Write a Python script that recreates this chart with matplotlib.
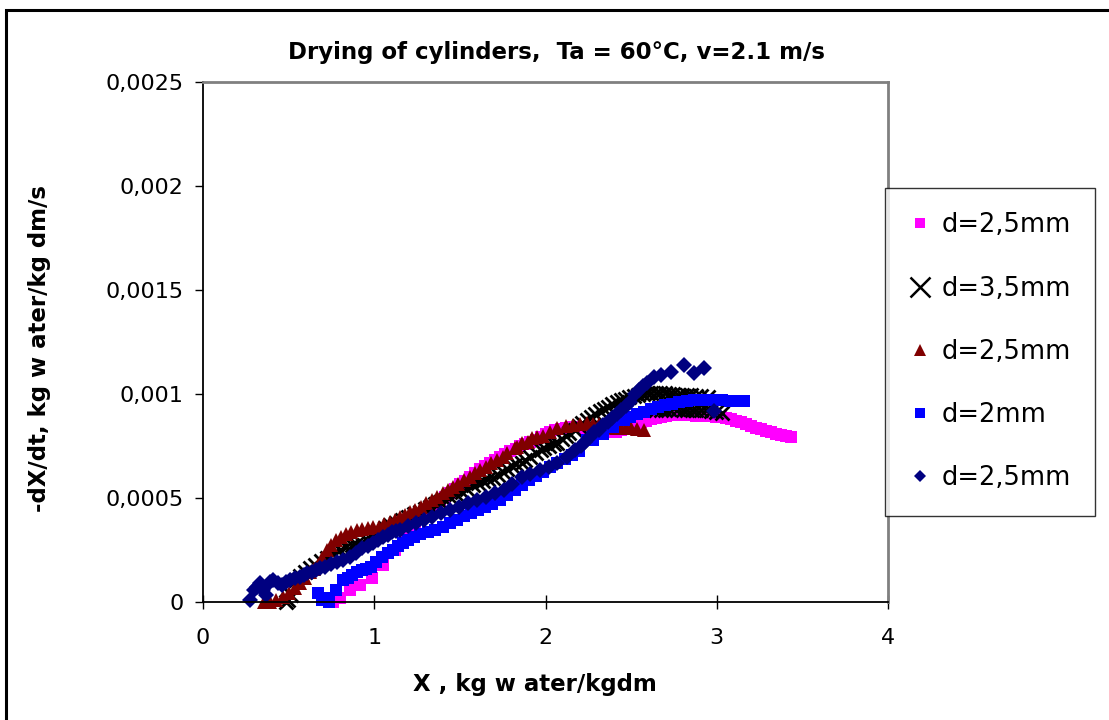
import matplotlib
matplotlib.use("Agg")
import matplotlib.pyplot as plt
from matplotlib.lines import Line2D
from matplotlib.patches import Rectangle

# ---------------------------------------------------------------------------
# Data (markers are dense so read in two passes)
# ---------------------------------------------------------------------------

# d=2,5mm (magenta squares)
x_mag = [0.760, 0.801, 0.860, 0.918, 0.988, 1.053, 1.123, 1.181, 1.240, 1.298,
         1.357, 1.415, 1.474, 1.532, 1.591, 1.649, 1.708, 1.766, 1.825, 1.883,
         1.942, 2.000, 2.058, 2.117, 2.175, 2.234, 2.292, 2.351, 2.409, 2.468,
         2.526, 2.585, 2.643, 2.702, 2.760, 2.819, 2.877, 2.936, 2.994, 3.053,
         3.111, 3.170, 3.228, 3.287, 3.345, 3.404, 3.433,
         1.327, 1.386, 1.444, 1.503, 1.561, 1.620, 1.678, 1.737, 1.795, 1.854,
         1.912, 1.971, 2.029, 2.088, 2.146, 2.205, 2.263, 2.322, 2.380, 2.439,
         2.497, 2.556, 2.614, 2.673, 2.731, 2.789, 2.848, 2.906, 2.965, 3.023,
         3.082, 3.140, 3.199, 3.257, 3.316, 3.374]
y_mag = [0.0, 0.0000192, 0.0000577, 0.0000817, 0.000115, 0.000178, 0.000250,
         0.000313, 0.000370, 0.000425, 0.000466, 0.000504, 0.000541, 0.000584,
         0.000620, 0.000654, 0.000681, 0.000710, 0.000736, 0.000760, 0.000781,
         0.000808, 0.000827, 0.000837, 0.000841, 0.000837, 0.000827, 0.000817,
         0.000817, 0.000837, 0.000856, 0.000870, 0.000885, 0.000894, 0.000899,
         0.000899, 0.000894, 0.000894, 0.000889, 0.000885, 0.000870, 0.000856,
         0.000837, 0.000822, 0.000808, 0.000798, 0.000793,
         0.000443, 0.000485, 0.000523, 0.000565, 0.000602, 0.000640, 0.000669,
         0.000696, 0.000725, 0.000750, 0.000771, 0.000792, 0.000817, 0.000832,
         0.000841, 0.000841, 0.000832, 0.000822, 0.000817, 0.000827, 0.000846,
         0.000865, 0.000880, 0.000889, 0.000899, 0.000899, 0.000899, 0.000894,
         0.000894, 0.000889, 0.000880, 0.000865, 0.000846, 0.000832, 0.000817,
         0.000803]

# d=3,5mm (black crosses)
x_blk = [0.485, 0.515, 0.544, 0.596, 0.655, 0.725, 0.801, 0.871, 0.924, 0.988,
         1.064, 1.129, 1.199, 1.269, 1.327, 1.386, 1.444, 1.515, 1.579, 1.637,
         1.696, 1.754, 1.807, 1.860, 1.912, 1.971, 2.023, 2.070, 2.117, 2.170,
         2.216, 2.263, 2.316, 2.363, 2.415, 2.462, 2.515, 2.567, 2.614, 2.667,
         2.719, 2.772, 2.825, 2.877, 2.947,
         2.643, 2.696, 2.749, 2.801, 2.854, 2.906, 2.965, 3.029,
         0.497, 0.567, 0.626, 0.690, 0.760, 0.836, 0.895, 0.953, 1.023, 1.094,
         1.164, 1.234, 1.298, 1.357, 1.415, 1.480, 1.544, 1.608, 1.667, 1.725,
         1.778, 1.830, 1.883, 1.942, 1.994, 2.047, 2.094, 2.140, 2.193, 2.240,
         2.287, 2.339, 2.386, 2.439, 2.485, 2.538, 2.591, 2.643, 2.696, 2.743,
         2.795, 2.848, 2.906,
         2.673, 2.719, 2.772, 2.825, 2.877, 2.936, 2.994]
y_blk = [0.0, 0.0000337, 0.000106, 0.000144, 0.000178, 0.000212, 0.000250,
         0.000274, 0.000284, 0.000322, 0.000356, 0.000380, 0.000409, 0.000433,
         0.000457, 0.000481, 0.000505, 0.000529, 0.000563, 0.000582, 0.000596,
         0.000625, 0.000654, 0.000668, 0.000697, 0.000731, 0.000750, 0.000764,
         0.000798, 0.000827, 0.000861, 0.000889, 0.000918, 0.000938, 0.000962,
         0.000976, 0.000990, 0.001000, 0.001005, 0.001005, 0.001000, 0.000995,
         0.000995, 0.000990, 0.000986,
         0.000923, 0.000923, 0.000933, 0.000923, 0.000923, 0.000923, 0.000918,
         0.000909,
         0.0000096, 0.000125, 0.000163, 0.000197, 0.000231, 0.000264, 0.000279,
         0.000303, 0.000341, 0.000370, 0.000394, 0.000423, 0.000447, 0.000471,
         0.000490, 0.000519, 0.000543, 0.000572, 0.000591, 0.000611, 0.000639,
         0.000663, 0.000683, 0.000716, 0.000740, 0.000760, 0.000784, 0.000813,
         0.000846, 0.000875, 0.000904, 0.000928, 0.000952, 0.000971, 0.000986,
         0.000995, 0.001005, 0.001005, 0.001005, 0.001000, 0.000995, 0.000995,
         0.000990,
         0.000923, 0.000928, 0.000928, 0.000923, 0.000923, 0.000923, 0.000913]

# d=2,5mm (dark red triangles)
x_red = [0.357, 0.427, 0.503, 0.567, 0.626, 0.673, 0.725, 0.778, 0.836, 0.901,
         0.965, 1.029, 1.094, 1.152, 1.211, 1.275, 1.339, 1.404, 1.462, 1.526,
         1.591, 1.655, 1.719, 1.778, 1.819, 1.860, 1.924, 1.988, 2.070, 2.158,
         2.240, 2.310, 2.386, 2.439, 2.497, 2.573,
         0.392, 0.468, 0.538, 0.596, 0.649, 0.696, 0.749, 0.807, 0.865, 0.930,
         0.994, 1.058, 1.123, 1.181, 1.240, 1.304, 1.368, 1.433, 1.491, 1.561,
         1.620, 1.684, 1.749, 1.836, 1.895, 1.953, 2.029, 2.117, 2.199, 2.275,
         2.345, 2.409, 2.468, 2.532]
y_red = [0.0, 0.0000096, 0.0000433, 0.0000913, 0.000144, 0.000178, 0.000250,
         0.000298, 0.000327, 0.000346, 0.000356, 0.000361, 0.000385, 0.000409,
         0.000433, 0.000457, 0.000490, 0.000524, 0.000553, 0.000587, 0.000620,
         0.000649, 0.000683, 0.000716, 0.000740, 0.000764, 0.000790, 0.000798,
         0.000837, 0.000851, 0.000861, 0.000856, 0.000841, 0.000837, 0.000837,
         0.000827,
         0.0, 0.0000240, 0.0000673, 0.000115, 0.000159, 0.000212, 0.000274,
         0.000313, 0.000337, 0.000351, 0.000361, 0.000375, 0.000394, 0.000418,
         0.000442, 0.000476, 0.000505, 0.000538, 0.000567, 0.000601, 0.000635,
         0.000668, 0.000697, 0.000745, 0.000770, 0.000793, 0.000817, 0.000846,
         0.000856, 0.000856, 0.000846, 0.000837, 0.000837, 0.000832]

# d=2mm (blue squares)
x_blu = [0.673, 0.696, 0.737, 0.778, 0.819, 0.871, 0.930, 0.982, 1.047, 1.111,
         1.170, 1.234, 1.316, 1.404, 1.485, 1.567, 1.649, 1.737, 1.819, 1.906,
         1.988, 2.070, 2.152, 2.240, 2.304, 2.363, 2.427, 2.491, 2.573, 2.655,
         2.737, 2.825, 2.906, 2.988, 3.076, 3.158,
         0.713, 0.848, 0.901, 0.953, 1.012, 1.082, 1.140, 1.199, 1.269, 1.357,
         1.444, 1.526, 1.608, 1.690, 1.778, 1.860, 1.947, 2.029, 2.111, 2.193,
         2.275, 2.333, 2.392, 2.456, 2.532, 2.614, 2.696, 2.778, 2.865, 2.947,
         3.029, 3.117]
y_blu = [0.0000433, 0.0000096, 0.0, 0.0000577, 0.000106, 0.000130, 0.000154,
         0.000168, 0.000216, 0.000250, 0.000284, 0.000313, 0.000337, 0.000361,
         0.000394, 0.000428, 0.000457, 0.000490, 0.000538, 0.000587, 0.000625,
         0.000668, 0.000707, 0.000779, 0.000813, 0.000851, 0.000875, 0.000889,
         0.000913, 0.000938, 0.000952, 0.000966, 0.000971, 0.000971, 0.000966,
         0.000966,
         0.0000192, 0.000115, 0.000144, 0.000159, 0.000192, 0.000236, 0.000269,
         0.000298, 0.000327, 0.000346, 0.000380, 0.000413, 0.000442, 0.000471,
         0.000514, 0.000563, 0.000606, 0.000649, 0.000688, 0.000726, 0.000779,
         0.000808, 0.000841, 0.000875, 0.000904, 0.000928, 0.000947, 0.000962,
         0.000971, 0.000971, 0.000971, 0.000966]

# d=2,5mm (navy diamonds)
x_nav = [0.275, 0.298, 0.333, 0.368, 0.409, 0.462, 0.509, 0.567, 0.608, 0.661,
         0.713, 0.784, 0.860, 0.930, 0.994, 1.053, 1.105, 1.152, 1.246, 1.339,
         1.444, 1.550, 1.655, 1.760, 1.860, 1.965, 2.070, 2.175, 2.228, 2.281,
         2.333, 2.386, 2.439, 2.491, 2.544, 2.591, 2.632, 2.673, 2.731, 2.807,
         2.865, 2.924, 2.982,
         0.316, 0.351, 0.392, 0.439, 0.485, 0.538, 0.591, 0.637, 0.684, 0.749,
         0.819, 0.895, 0.965, 1.023, 1.082, 1.129, 1.199, 1.292, 1.392, 1.497,
         1.602, 1.708, 1.807, 1.912, 2.018, 2.123, 2.205, 2.257, 2.310, 2.363,
         2.415, 2.468, 2.520, 2.567]
y_nav = [0.0000096, 0.0000577, 0.0000913, 0.0000337, 0.000106, 0.0000817,
         0.000106, 0.000120, 0.000139, 0.000154, 0.000168, 0.000192, 0.000216,
         0.000260, 0.000284, 0.000313, 0.000337, 0.000346, 0.000380, 0.000409,
         0.000442, 0.000476, 0.000505, 0.000538, 0.000601, 0.000635, 0.000668,
         0.000731, 0.000769, 0.000817, 0.000851, 0.000885, 0.000923, 0.000962,
         0.001019, 0.001053, 0.001082, 0.001091, 0.001106, 0.001139, 0.001101,
         0.001125, 0.000918,
         0.0000721, 0.0000577, 0.0000962, 0.0000913, 0.0000962, 0.000115,
         0.000130, 0.000144, 0.000163, 0.000183, 0.000202, 0.000236, 0.000269,
         0.000298, 0.000322, 0.000341, 0.000365, 0.000394, 0.000428, 0.000457,
         0.000490, 0.000524, 0.000567, 0.000615, 0.000649, 0.000697, 0.000750,
         0.000793, 0.000827, 0.000865, 0.000904, 0.000942, 0.001000, 0.001038]

labels = ["d=2,5mm", "d=3,5mm", "d=2,5mm", "d=2mm", "d=2,5mm"]

y_ticks = [0, 0.0005, 0.001, 0.0015, 0.002, 0.0025]
y_tick_labels = ["0", "0,0005", "0,001", "0,0015", "0,002", "0,0025"]
x_ticks = [0, 1, 2, 3, 4]

# ---------------------------------------------------------------------------
# Plot
# ---------------------------------------------------------------------------

plt.rcParams["font.family"] = ["DejaVu Sans"]

fig = plt.figure(figsize=(11.09, 7.2), dpi=100)
ax = fig.add_axes([203 / 1109, 1 - 602 / 720, 685 / 1109, 520 / 720])

# outer chart border (only top and left edges visible in the reference)
fig.patches.append(Rectangle((6 / 1109, -0.1), 1.2, 1.1 - 10 / 720,
                             transform=fig.transFigure, fill=False,
                             edgecolor="black", linewidth=2.2, zorder=0))

ax.plot(x_mag, y_mag, linestyle="none", marker="s", markersize=8.5,
        color="#FF00FF", markeredgewidth=0, clip_on=False)
ax.plot(x_blk, y_blk, linestyle="none", marker="x", markersize=10,
        color="black", markeredgewidth=2, clip_on=False)
ax.plot(x_red, y_red, linestyle="none", marker="^", markersize=10.5,
        color="#800000", markeredgewidth=0, clip_on=False)
ax.plot(x_blu, y_blu, linestyle="none", marker="s", markersize=8.5,
        color="#0000FF", markeredgewidth=0, clip_on=False)
ax.plot(x_nav, y_nav, linestyle="none", marker="D", markersize=8,
        color="#000080", markeredgewidth=0, clip_on=False)

ax.set_xlim(0, 4)
ax.set_ylim(0, 0.0025)
ax.set_xticks(x_ticks)
ax.set_xticklabels([str(t) for t in x_ticks], fontsize=16)
ax.set_yticks(y_ticks)
ax.set_yticklabels(y_tick_labels, fontsize=16)
ax.tick_params(axis="y", direction="out", length=6, width=1, pad=8)
ax.tick_params(axis="x", direction="inout", length=10, width=1, pad=14)

for side in ("left", "bottom"):
    ax.spines[side].set_color("black")
    ax.spines[side].set_linewidth(1.3)
for side in ("top", "right"):
    ax.spines[side].set_color("#808080")
    ax.spines[side].set_linewidth(2)

fig.text(556 / 1109, 1 - 52 / 720, "Drying of cylinders,  Ta = 60°C, v=2.1 m/s",
         ha="center", va="center", fontsize=16.5, fontweight="bold")
fig.text(535 / 1109, 1 - 684 / 720, "X , kg w ater/kgdm",
         ha="center", va="center", fontsize=16.5, fontweight="bold")
fig.text(40 / 1109, 1 - 348 / 720, "-dX/dt, kg w ater/kg dm/s",
         ha="center", va="center", rotation=90, fontsize=16.5, fontweight="bold")

handles = [
    Line2D([], [], linestyle="none", marker="s", markersize=7.5,
           color="#FF00FF", markeredgewidth=0),
    Line2D([], [], linestyle="none", marker="x", markersize=15,
           color="black", markeredgewidth=1.8),
    Line2D([], [], linestyle="none", marker="^", markersize=8,
           color="#800000", markeredgewidth=0),
    Line2D([], [], linestyle="none", marker="s", markersize=6.5,
           color="#0000FF", markeredgewidth=0),
    Line2D([], [], linestyle="none", marker="D", markersize=6.5,
           color="#000080", markeredgewidth=0),
]
leg = fig.legend(handles, labels, loc="upper left",
                 bbox_to_anchor=(885 / 1109, 1 - 188 / 720),
                 fontsize=18.5, frameon=True, fancybox=False,
                 handlelength=0.8, handletextpad=0.45, labelspacing=1.45,
                 borderpad=0.95, borderaxespad=0)
leg.get_frame().set_edgecolor("black")
leg.get_frame().set_linewidth(1)

fig.savefig("out.png", dpi=100)
